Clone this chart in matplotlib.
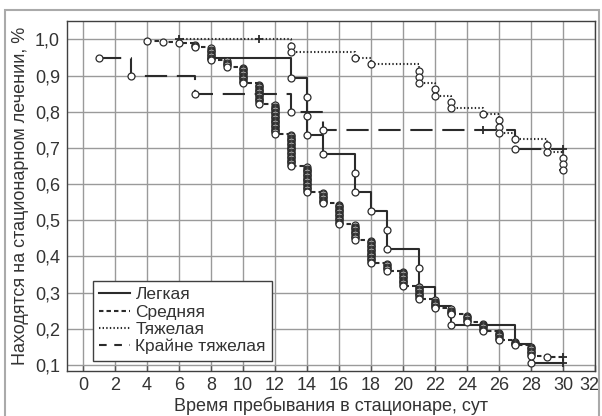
import matplotlib
matplotlib.use('Agg')
import matplotlib.pyplot as plt
from matplotlib.lines import Line2D
from matplotlib.patches import Rectangle
from matplotlib.transforms import ScaledTranslation

plt.rcParams['font.family'] = ['Liberation Sans', 'DejaVu Sans']
plt.rcParams['lines.scale_dashes'] = False

# patients per group, days with discharges (events) and censored cases
light_n = 19
light_t = [8, 13, 14, 15, 17, 18, 19, 21, 22, 23, 27, 28, 30]
light_d = [1, 1, 3, 1, 2, 1, 2, 2, 1, 1, 1, 1, 0]
light_c = [0, 0, 0, 0, 0, 0, 0, 0, 0, 0, 0, 0, 2]

mid_n = 280
mid_t = [4, 5, 6, 7, 8, 9, 10, 11, 12, 13, 14, 15, 16, 17, 18, 19, 20,
         21, 22, 23, 24, 25, 26, 27, 28, 29, 30]
mid_d = [1, 1, 1, 3, 10, 5, 13, 16, 23, 25, 20, 9, 16, 12, 18, 6, 12,
         10, 7, 5, 6, 7, 7, 4, 8, 1, 0]
mid_c = [0] * 26 + [34]

heavy_n = 60
heavy_t = [6, 11, 13, 17, 18, 21, 22, 23, 25, 26, 27, 29, 30]
heavy_d = [0, 0, 2, 1, 1, 3, 2, 2, 1, 3, 1, 2, 3]
heavy_c = [1, 1, 0, 0, 0, 0, 0, 0, 0, 0, 0, 0, 37]

crit_n = 20
crit_t = [1, 3, 7, 13, 15, 25, 27, 30]
crit_d = [1, 1, 1, 1, 1, 0, 1, 0]
crit_c = [0, 0, 0, 0, 0, 1, 0, 13]

labels = ['Легкая', 'Средняя', 'Тяжелая', 'Крайне тяжелая']
x_ticks = list(range(0, 33, 2))
y_ticks = [0.1, 0.2, 0.3, 0.4, 0.5, 0.6, 0.7, 0.8, 0.9, 1.0]
y_tick_labels = ['0,1', '0,2', '0,3', '0,4', '0,5', '0,6', '0,7', '0,8', '0,9', '1,0']


def km(n, times, deaths, cens):
    # Kaplan-Meier estimate, one circle per complete case
    at_risk, s = n, 1.0
    st, ss, et, es, ct, cs = [], [], [], [], [], []
    for t, d, c in zip(times, deaths, cens):
        for _ in range(d):
            s *= (at_risk - 1) / at_risk
            at_risk -= 1
            et.append(t)
            es.append(s)
        if c:
            ct.append(t)
            cs.append(s)
            at_risk -= c
        st.append(t)
        ss.append(s)
    return st, ss, et, es, ct, cs


col = '#2b2b2b'
txt_col = '#333333'
styles = [
    dict(linestyle='-'),
    dict(dashes=(3.2, 2.2)),
    dict(dashes=(1.0, 1.6)),
    dict(dashes=(16, 7)),
]
groups = [
    (light_n, light_t, light_d, light_c),
    (mid_n, mid_t, mid_d, mid_c),
    (heavy_n, heavy_t, heavy_d, heavy_c),
    (crit_n, crit_t, crit_d, crit_c),
]

fig = plt.figure(figsize=(6.02, 4.16), dpi=100)
ax = fig.add_axes([67 / 602, 1 - 371 / 416, 528 / 602, 350 / 416])

for (n, t, d, c), sty in zip(groups, styles):
    st, ss, et, es, ct, cs = km(n, t, d, c)
    ax.step(st, ss, where='post', color=col, lw=1.5, zorder=3, **sty)
    ax.plot(ct, cs, '+', color=col, ms=6, mew=1.3, zorder=4)
    ax.plot(et, es, 'o', mfc='white', mec=col, ms=5, mew=0.9, zorder=5)

ax.set_xlim(-1, 32)
ax.set_ylim(0.083, 1.051)
ax.set_xticks(x_ticks)
ax.set_yticks(y_ticks)
ax.set_yticklabels(y_tick_labels)
ax.tick_params(labelsize=13, colors=txt_col)
ax.tick_params(axis='x', direction='in', length=4, width=1, color='#555555', pad=4)
ax.tick_params(axis='y', length=0, pad=5)
ax.grid(True, color='#9a9a9a', lw=1.0)
ax.set_axisbelow(True)
for sp in ax.spines.values():
    sp.set_color('#404040')
    sp.set_linewidth(1.0)

# keep the last tick label inside the picture
last = ax.get_xticklabels()[-1]
last.set_transform(last.get_transform() + ScaledTranslation(-0.06, 0, fig.dpi_scale_trans))

ax.set_xlabel('Время пребывания в стационаре, сут', fontsize=13,
              color=txt_col, labelpad=2)
ax.set_ylabel('Находятся на стационарном лечении, %', fontsize=13,
              color=txt_col, labelpad=4)

handles = [
    Line2D([], [], color=col, lw=1.5, linestyle='-'),
    Line2D([], [], color=col, lw=1.5, dashes=(3.2, 2.2)),
    Line2D([], [], color=col, lw=1.5, dashes=(1.0, 1.6)),
    Line2D([], [], color=col, lw=1.5, dashes=(5.5, 5.5)),
]
leg = ax.legend(handles, labels, loc='lower left',
                bbox_to_anchor=(0.049, 0.03), borderaxespad=0,
                fontsize=12.5, fancybox=False, framealpha=1,
                edgecolor='#404040', handlelength=1.8, handletextpad=0.3,
                labelspacing=0.12, borderpad=0.35)
leg.get_frame().set_linewidth(1.0)
for txt in leg.get_texts():
    txt.set_color(txt_col)

fig.patches.append(Rectangle((5 / 602, -0.01), 594 / 602, 1 - 10 / 416 + 0.01,
                             transform=fig.transFigure, fill=False,
                             edgecolor='#aaaaaa', lw=1.5))

fig.savefig('out.png', dpi=100)
